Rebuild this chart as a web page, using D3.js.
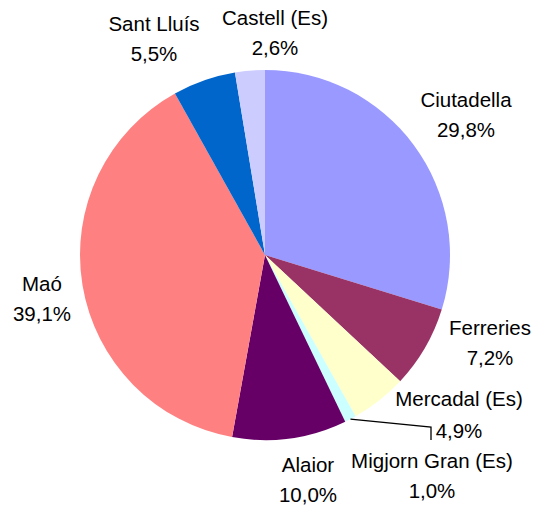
<!DOCTYPE html>
<html>
<head>
<meta charset="utf-8">
<script src="https://cdn.jsdelivr.net/npm/d3@7"></script>
<style>
  body { margin: 0; background: #fff; }
  svg text { font-family: "Liberation Sans", Arial, sans-serif; font-size: 20.5px; fill: #000; }
</style>
</head>
<body>
<svg id="chart" width="533" height="511"></svg>
<script>
// data (clockwise from 12 o'clock)
const categories = ['Ciutadella', 'Ferreries', 'Mercadal (Es)', 'Migjorn Gran (Es)', 'Alaior', 'Maó', 'Sant Lluís', 'Castell (Es)'];
const values = [29.8, 7.2, 4.9, 1.0, 10.0, 39.1, 5.5, 2.6];
const colors = ['#9999ff', '#993366', '#ffffcc', '#ccffff', '#660066', '#ff8080', '#0066cc', '#ccccff'];

// label anchor (centre x, first baseline y) for each slice
const labelPos = [[466, 107], [490, 335], [459, 406], [432, 468], [308, 472], [42, 291], [154, 31], [275, 25]];

const cx = 265, cy = 255, radius = 185;
const lineGap = 30;

const svg = d3.select('#chart');
const g = svg.append('g').attr('transform', `translate(${cx},${cy})`);

const pie = d3.pie().sort(null).value(d => d);
const arcs = pie(values);
const arc = d3.arc().innerRadius(0).outerRadius(radius);

g.selectAll('path.slice')
    .data(arcs)
    .enter()
    .append('path')
    .attr('class', 'slice')
    .attr('d', arc)
    .attr('fill', (d, i) => colors[i]);

const fmt = v => v.toFixed(1).replace('.', ',') + '%';

// leader line for the small Migjorn Gran slice
const mig = arcs[3];
const midA = (mig.startAngle + mig.endAngle) / 2;
const start = [cx + radius * Math.sin(midA), cy - radius * Math.cos(midA)];
svg.append('path')
    .attr('d', d3.line()([start, [431, 427], [431, 440]]))
    .attr('fill', 'none')
    .attr('stroke', '#000')
    .attr('stroke-width', 1.3);

const labels = svg.selectAll('text.lbl')
    .data(arcs)
    .enter()
    .append('text')
    .attr('class', 'lbl')
    .attr('text-anchor', 'middle');

labels.append('tspan')
    .attr('x', (d, i) => labelPos[i][0])
    .attr('y', (d, i) => labelPos[i][1])
    .text((d, i) => categories[i]);

labels.append('tspan')
    .attr('x', (d, i) => labelPos[i][0])
    .attr('y', (d, i) => labelPos[i][1] + lineGap + (i === 2 ? 2 : 0))
    .text((d, i) => fmt(values[i]));
</script>
</body>
</html>
